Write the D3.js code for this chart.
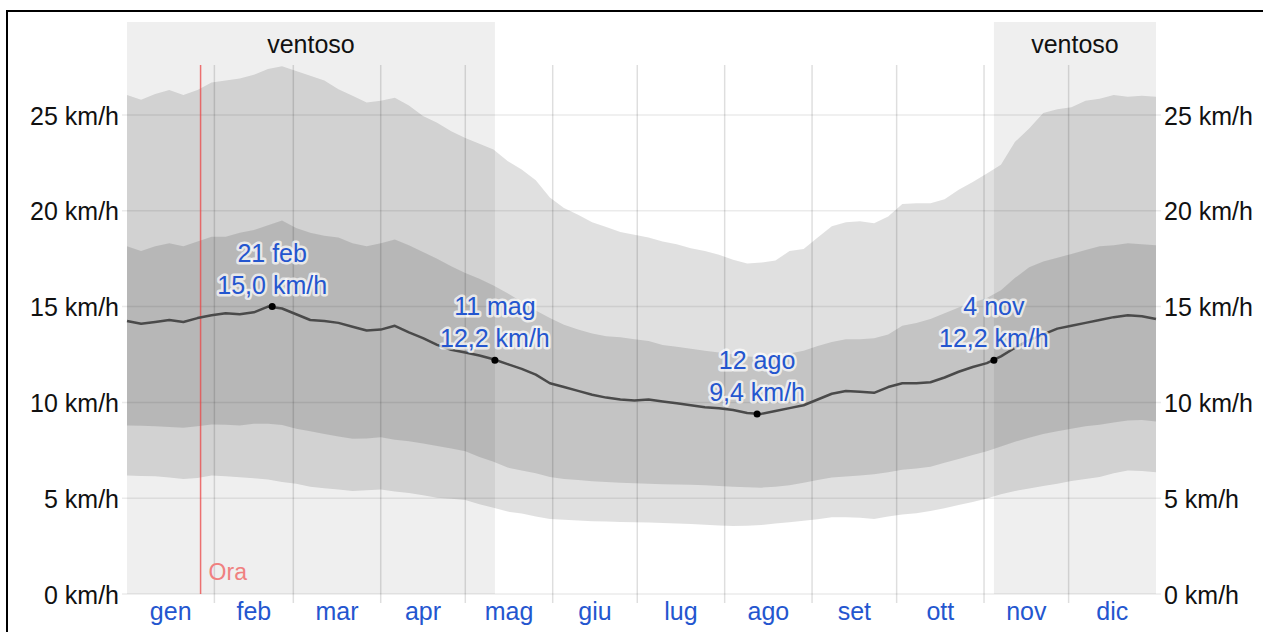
<!DOCTYPE html>
<html lang="it">
<head>
<meta charset="utf-8">
<title>Velocità media del vento</title>
<script src="https://cdn.jsdelivr.net/npm/d3@7"></script>
<style>
  html, body { margin: 0; padding: 0; background: #fff; }
  svg { display: block; font-family: "Liberation Sans", Arial, sans-serif; }
</style>
</head>
<body>
<svg id="chart" width="1263" height="632"></svg>
<script>
// Day-of-year samples (every 5 days) for the wind speed statistics, km/h
const days = d3.range(0, 366, 5);

// 90th percentile
const p90 = [26.05, 25.8, 26.1, 26.3, 26.05, 26.3, 26.7, 26.8, 26.9, 27.1,
  27.4, 27.55, 27.3, 27.05, 26.8, 26.35, 26.0, 25.65, 25.75, 25.9,
  25.5, 24.95, 24.6, 24.15, 23.8, 23.5, 23.2, 22.6, 22.15, 21.6,
  20.7, 20.15, 19.8, 19.4, 19.15, 18.9, 18.75, 18.6, 18.4, 18.25,
  18.05, 17.9, 17.7, 17.45, 17.25, 17.3, 17.4, 17.9, 18.0, 18.6,
  19.2, 19.4, 19.45, 19.35, 19.7, 20.35, 20.4, 20.4, 20.6, 21.1,
  21.5, 21.95, 22.4, 23.6, 24.3, 25.1, 25.3, 25.4, 25.75, 25.85,
  26.05, 25.95, 26.0, 25.95];

// 75th percentile
const p75 = [18.15, 17.9, 18.15, 18.3, 18.15, 18.4, 18.65, 18.65, 18.85, 19.0,
  19.25, 19.5, 19.1, 18.85, 18.7, 18.6, 18.3, 18.15, 18.3, 18.5,
  18.2, 17.85, 17.5, 17.1, 16.75, 16.45, 16.1, 15.7, 15.25, 14.8,
  14.4, 14.05, 13.8, 13.6, 13.45, 13.4, 13.3, 13.2, 13.0, 12.9,
  12.8, 12.7, 12.6, 12.5, 12.4, 12.35, 12.4, 12.55, 12.7, 12.95,
  13.15, 13.3, 13.3, 13.35, 13.55, 14.0, 14.15, 14.35, 14.65, 14.95,
  15.2, 15.45, 15.85, 16.5, 17.05, 17.35, 17.55, 17.75, 17.95, 18.15,
  18.2, 18.3, 18.25, 18.2];

// Average wind speed
const mean = [14.25, 14.1, 14.2, 14.3, 14.2, 14.4, 14.55, 14.65, 14.6, 14.7,
  15.0, 14.9, 14.6, 14.3, 14.25, 14.15, 13.95, 13.75, 13.8, 14.0,
  13.65, 13.35, 13.0, 12.75, 12.6, 12.45, 12.25, 12.0, 11.75, 11.45,
  11.0, 10.8, 10.6, 10.4, 10.25, 10.15, 10.1, 10.15, 10.05, 9.95,
  9.85, 9.75, 9.7, 9.6, 9.45, 9.4, 9.55, 9.7, 9.85, 10.15,
  10.45, 10.6, 10.55, 10.5, 10.8, 11.0, 11.0, 11.05, 11.3, 11.6,
  11.85, 12.05, 12.4, 12.85, 13.25, 13.55, 13.85, 14.0, 14.15, 14.3,
  14.45, 14.55, 14.5, 14.35];

// 25th percentile
const p25 = [8.8, 8.78, 8.76, 8.72, 8.68, 8.75, 8.85, 8.83, 8.8, 8.88,
  8.88, 8.82, 8.62, 8.5, 8.35, 8.22, 8.1, 8.12, 8.18, 8.05,
  7.97, 7.85, 7.72, 7.6, 7.45, 7.15, 6.9, 6.6, 6.45, 6.3,
  6.1, 6.0, 5.95, 5.88, 5.85, 5.8, 5.78, 5.76, 5.73, 5.72,
  5.7, 5.67, 5.64, 5.6, 5.57, 5.55, 5.6, 5.68, 5.8, 5.95,
  6.08, 6.13, 6.18, 6.25, 6.35, 6.48, 6.55, 6.64, 6.85, 7.05,
  7.25, 7.45, 7.7, 7.95, 8.15, 8.35, 8.5, 8.63, 8.75, 8.83,
  8.95, 9.05, 9.08, 9.0];

// 10th percentile
const p10 = [6.18, 6.16, 6.14, 6.08, 6.0, 6.05, 6.18, 6.14, 6.09, 6.04,
  5.98, 5.84, 5.75, 5.6, 5.52, 5.45, 5.37, 5.42, 5.45, 5.35,
  5.27, 5.15, 5.03, 4.97, 4.91, 4.68, 4.5, 4.3, 4.2, 4.05,
  3.92, 3.87, 3.84, 3.8, 3.78, 3.76, 3.74, 3.73, 3.7, 3.68,
  3.65, 3.62, 3.58, 3.55, 3.56, 3.6, 3.68, 3.75, 3.82, 3.9,
  4.0, 4.0, 3.98, 3.92, 4.05, 4.15, 4.22, 4.33, 4.48, 4.65,
  4.8, 4.98, 5.2, 5.38, 5.5, 5.64, 5.75, 5.9, 6.0, 6.1,
  6.3, 6.45, 6.42, 6.36];

// Calendar
const monthNames = ["gen", "feb", "mar", "apr", "mag", "giu", "lug", "ago", "set", "ott", "nov", "dic"];
const monthStarts = [0, 31, 59, 90, 120, 151, 181, 212, 243, 273, 304, 334, 365];

// Y axis ticks
const yTicks = [0, 5, 10, 15, 20, 25];

// Windy season (day-of-year intervals) and its label
const windyRanges = [[0, 130.5], [307.5, 365]];
const windyLabel = "ventoso";

// Highlighted extremes / season boundaries
const annotDays = [51, 130, 223, 307];
const annotDates = ["21 feb", "11 mag", "12 ago", "4 nov"];
const annotValues = [15.0, 12.2, 9.4, 12.2];

// Current date marker
const nowDay = 26.1;
const nowLabel = "Ora";

// ---------------------------------------------------------------
const svg = d3.select("#chart");
const plotLeft = 127, plotRight = 1156, plotTop = 22, plotBottom = 594;
const gridTop = 65;

const x = d3.scaleLinear().domain([0, 365]).range([plotLeft, plotRight]);
const y = d3.scaleLinear().domain([0, 25]).range([plotBottom, 115]);

const blue = "#2456cf";
const FS = 25;

// outer frame
svg.append("rect")
  .attr("x", 7).attr("y", 11).attr("width", 1400).attr("height", 800)
  .attr("fill", "none").attr("stroke", "#000").attr("stroke-width", 2);

// windy season background
const windy = svg.append("g");
windy.selectAll("rect").data(windyRanges).join("rect")
  .attr("x", d => x(d[0])).attr("y", plotTop)
  .attr("width", d => x(d[1]) - x(d[0])).attr("height", plotBottom - plotTop)
  .attr("fill", "#efefef");
windy.selectAll("text").data(windyRanges).join("text")
  .attr("x", d => (x(d[0]) + x(d[1])) / 2).attr("y", 53)
  .attr("text-anchor", "middle")
  .attr("font-size", FS).attr("fill", "#111")
  .text(windyLabel);

const rows = days.map((d, i) => ({ d, p90: p90[i], p75: p75[i], m: mean[i], p25: p25[i], p10: p10[i] }));

// percentile bands
const band = (lo, hi) => d3.area().x(r => x(r.d)).y0(r => y(r[lo])).y1(r => y(r[hi]));
svg.append("path").datum(rows).attr("d", band("p10", "p90"))
  .attr("fill", "rgba(0,0,0,0.12)");
svg.append("path").datum(rows).attr("d", band("p25", "p75"))
  .attr("fill", "rgba(0,0,0,0.125)");

// horizontal grid lines
svg.append("g").selectAll("line").data(yTicks).join("line")
  .attr("x1", plotLeft - 5).attr("x2", plotRight + 5)
  .attr("y1", d => y(d)).attr("y2", d => y(d))
  .attr("stroke", "rgba(0,0,0,0.08)").attr("stroke-width", 1.5);

// month boundary lines
svg.append("g").selectAll("line").data(monthStarts.slice(1, 12)).join("line")
  .attr("x1", d => x(d)).attr("x2", d => x(d))
  .attr("y1", gridTop).attr("y2", plotBottom + 9)
  .attr("stroke", "rgba(0,0,0,0.13)").attr("stroke-width", 1.5);

// current date marker
svg.append("line")
  .attr("x1", x(nowDay)).attr("x2", x(nowDay))
  .attr("y1", gridTop).attr("y2", plotBottom)
  .attr("stroke", "rgba(235,70,70,0.75)").attr("stroke-width", 1.5);
svg.append("text")
  .attr("x", x(nowDay) + 8).attr("y", 580)
  .attr("font-size", 23).attr("fill", "#f08080")
  .text(nowLabel);

// mean line
svg.append("path").datum(rows)
  .attr("d", d3.line().x(r => x(r.d)).y(r => y(r.m)))
  .attr("fill", "none").attr("stroke", "#4a4a4a").attr("stroke-width", 2.5)
  .attr("stroke-linejoin", "round");

// y axes (both sides)
const fmt = d => d + " km/h";
const yl = svg.append("g").attr("transform", `translate(${plotLeft - 8},0)`)
  .call(d3.axisLeft(y).tickValues(yTicks).tickFormat(fmt).tickSize(0).tickPadding(0));
const yr = svg.append("g").attr("transform", `translate(${plotRight + 8},0)`)
  .call(d3.axisRight(y).tickValues(yTicks).tickFormat(fmt).tickSize(0).tickPadding(0));
[yl, yr].forEach(g => {
  g.select(".domain").remove();
  g.selectAll("text").attr("font-size", FS).attr("fill", "#111")
    .attr("font-family", "'Liberation Sans', Arial, sans-serif")
    .attr("dy", "0.36em");
});

// month labels
svg.append("g").selectAll("text").data(monthNames).join("text")
  .attr("x", (m, i) => x((monthStarts[i] + monthStarts[i + 1]) / 2))
  .attr("y", 620)
  .attr("text-anchor", "middle")
  .attr("font-size", FS).attr("fill", blue)
  .text(m => m);

// annotated points
const ann = annotDays.map((d, i) => ({ d: d + 0.5, date: annotDates[i], v: annotValues[i] }));
const ag = svg.append("g");
ag.selectAll("circle").data(ann).join("circle")
  .attr("cx", a => x(a.d)).attr("cy", a => y(a.v)).attr("r", 3.5)
  .attr("fill", "#000");
const labels = ag.selectAll("g.lab").data(ann).join("g").attr("class", "lab");
labels.each(function (a) {
  const g = d3.select(this);
  const lines = [[a.date, -45], [a.v.toFixed(1).replace(".", ",") + " km/h", -13]];
  lines.forEach(([t, dy]) => {
    g.append("text")
      .attr("x", x(a.d)).attr("y", y(a.v) + dy)
      .attr("text-anchor", "middle").attr("font-size", FS)
      .attr("fill", blue)
      .attr("stroke", "rgba(255,255,255,0.7)").attr("stroke-width", 5)
      .attr("stroke-linejoin", "round").attr("paint-order", "stroke")
      .text(t);
  });
});
</script>
</body>
</html>
